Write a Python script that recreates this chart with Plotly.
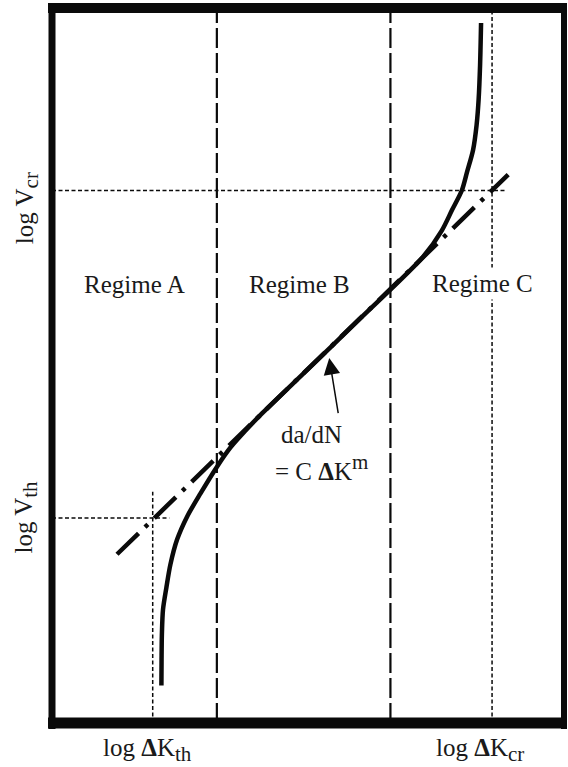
import plotly.graph_objects as go

# ---- data (arbitrary log units) ----
dk_regime_ab = 3.22          # boundary Regime A / Regime B (log ΔK)
dk_regime_bc = 6.61          # boundary Regime B / Regime C
dk_th, dk_cr = 1.967, 8.595  # log ΔK_th, log ΔK_cr
v_th, v_cr = 2.868, 7.447    # log V_th, log V_cr

# sigmoidal crack growth curve
curve_x = [2.137, 2.140, 2.146, 2.168, 2.234, 2.312, 2.443, 2.638, 2.898, 3.223,
           3.483, 3.776, 4.107, 5.000, 6.000, 7.249, 7.610, 7.815, 8.004, 8.107,
           8.224, 8.293, 8.332, 8.361, 8.380]
curve_y = [0.524, 0.887, 1.237, 1.586, 1.894, 2.215, 2.565, 2.886, 3.208, 3.585,
           3.851, 4.088, 4.334, 4.950, 5.644, 6.520, 6.883, 7.177, 7.447, 7.708,
           8.015, 8.365, 8.714, 9.203, 9.790]

# Paris-law extension (dash-dot)
paris_x = [1.27, 8.91]
paris_y = [2.36, 7.67]

X_MAX, Y_MAX = 10.0, 10.0

fig = go.Figure()

BLACK = "#0a0a0a"

# vertical regime boundaries (long dashes)
for xv in [dk_regime_ab, dk_regime_bc]:
    fig.add_trace(go.Scatter(x=[xv, xv], y=[0, Y_MAX], mode="lines",
                             line=dict(color=BLACK, width=2.2, dash="20px,5px"),
                             hoverinfo="skip", showlegend=False))

dot = dict(color=BLACK, width=1.5, dash="4px,2.5px")
# horizontal dotted guides
fig.add_trace(go.Scatter(x=[0, 8.85], y=[v_cr, v_cr], mode="lines", line=dot,
                         hoverinfo="skip", showlegend=False))
fig.add_trace(go.Scatter(x=[0, 2.29], y=[v_th, v_th], mode="lines", line=dot,
                         hoverinfo="skip", showlegend=False))
# vertical dotted guides
fig.add_trace(go.Scatter(x=[dk_th, dk_th], y=[0, 3.235], mode="lines", line=dot,
                         hoverinfo="skip", showlegend=False))
fig.add_trace(go.Scatter(x=[dk_cr, dk_cr], y=[0, Y_MAX], mode="lines", line=dot,
                         hoverinfo="skip", showlegend=False))

# dash-dot Paris line
fig.add_trace(go.Scatter(x=paris_x, y=paris_y, mode="lines",
                         line=dict(color=BLACK, width=4.5, dash="30px,9px,4px,9px"),
                         hoverinfo="skip", showlegend=False))

# main curve
fig.add_trace(go.Scatter(x=curve_x, y=curve_y, mode="lines",
                         line=dict(color=BLACK, width=4.5, shape="spline", smoothing=0.8),
                         hoverinfo="skip", showlegend=False))

FONT = "Liberation Serif, Times New Roman, serif"
TXT = "#1a1a1a"
FS = 25
SUB = '<sub><span style="font-size:21px">%s</span></sub>'
SUP = '<sup><span style="font-size:21px">%s</span></sup>'

def ann(text, x, y, size=FS, **kw):
    d = dict(text=text, x=x, y=y, xref="x", yref="y", showarrow=False,
             font=dict(family=FONT, size=size, color=TXT))
    d.update(kw)
    fig.add_annotation(**d)

ann("Regime A", 1.61, 6.13)
ann("Regime B", 4.83, 6.13)
ann("Regime C", 8.40, 6.14, bgcolor="white", borderpad=2)
ann("da/dN", 5.06, 4.03)
ann("= C <b>Δ</b>K" + SUP % "m", 5.27, 3.58)

# arrow
fig.add_annotation(x=5.415, y=5.104, ax=5.595, ay=4.312, xref="x", yref="y",
                   axref="x", ayref="y", text="", showarrow=True,
                   arrowhead=2, arrowsize=2.2, arrowwidth=1.5, arrowcolor=BLACK)

# axis labels
lab = dict(family=FONT, size=FS, color=TXT)
fig.add_annotation(text="log V" + SUB % "cr", x=-0.05, y=7.205, xref="paper", yref="y",
                   xanchor="center", yanchor="middle",
                   textangle=-90, showarrow=False, font=lab)
fig.add_annotation(text="log V" + SUB % "th", x=-0.05, y=2.879, xref="paper", yref="y",
                   xanchor="center", yanchor="middle",
                   textangle=-90, showarrow=False, font=lab)
fig.add_annotation(text="log <b>Δ</b>K" + SUB % "th", x=1.87, y=-0.012, xref="x", yref="paper",
                   xanchor="center", yanchor="top", showarrow=False, font=lab)
fig.add_annotation(text="log <b>Δ</b>K" + SUB % "cr", x=8.36, y=-0.012, xref="x", yref="paper",
                   xanchor="center", yanchor="top", showarrow=False, font=lab)

# frame (thick border)
W, H = 512.0, 715.0
frame = [
    dict(x0=-4.0 / W, x1=1 + 3.0 / W, y0=1, y1=1, w=10),      # top
    dict(x0=-4.0 / W, x1=1 + 3.0 / W, y0=0, y1=0, w=11),      # bottom
    dict(x0=0, x1=0, y0=-6.0 / H, y1=1 + 5.0 / H, w=7),      # left
    dict(x0=1, x1=1, y0=-6.0 / H, y1=1 + 5.0 / H, w=6),      # right
]
for f in frame:
    fig.add_shape(type="line", xref="paper", yref="paper", x0=f["x0"], x1=f["x1"],
                  y0=f["y0"], y1=f["y1"], line=dict(color=BLACK, width=f["w"]), layer="above")

fig.update_xaxes(range=[0, X_MAX], visible=False, fixedrange=True)
fig.update_yaxes(range=[0, Y_MAX], visible=False, fixedrange=True)
fig.update_layout(width=568, height=767, margin=dict(l=52, r=4, t=8, b=44),
                  plot_bgcolor="white", paper_bgcolor="white", showlegend=False)

fig.write_html("out.html", config={"displayModeBar": False},
               post_script="document.body.style.margin='0';document.body.style.overflow='hidden';")
